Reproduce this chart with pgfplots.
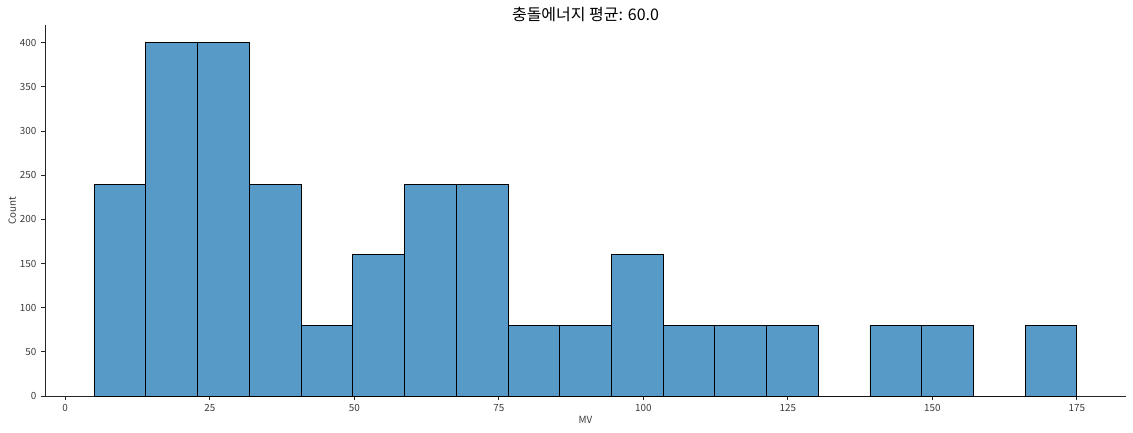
\documentclass[border=0pt]{standalone}
\usepackage{pgfplots}
\pgfplotsset{compat=1.18}
\usepackage{fontspec}
\setmainfont{Noto Sans CJK KR}
\definecolor{barblue}{HTML}{5799C7}
\definecolor{spine}{HTML}{262626}
\definecolor{ticktext}{HTML}{3A3A3A}
\begin{document}
\begin{tikzpicture}
\begin{axis}[
  scale only axis,
  width=810.75pt, height=278.25pt,
  xmin=-3.5, xmax=183.5, ymin=0, ymax=420,
  axis x line*=bottom, axis y line*=left,
  axis line style={spine, line width=0.6pt},
  xtick={0,25,50,75,100,125,150,175},
  ytick={0,50,100,150,200,250,300,350,400},
  tick align=outside, tick style={spine, line width=0.6pt},
  major tick length=3pt,
  tick label style={font=\fontsize{7.4}{8}\selectfont, text=ticktext},
  /pgf/number format/assume math mode=true,
  xlabel={MV}, ylabel={Count},
  label style={font=\fontsize{7.4}{8}\selectfont, text=ticktext},
  xlabel style={yshift=4pt},
  ylabel style={yshift=-4pt},
  title={충돌에너지 평균: 60.0},
  title style={font=\fontsize{12}{14}\selectfont, yshift=-7pt},
  clip=false,
]
\addplot[ybar interval, fill=barblue, draw=black, line width=0.6pt] coordinates {
(5,240) (13.947368,400) (22.894737,400) (31.842105,240) (40.789474,80)
(49.736842,160) (58.684211,240) (67.631579,240) (76.578947,80) (85.526316,80)
(94.473684,160) (103.421053,80) (112.368421,80) (121.315789,80) (130.263158,0)
(139.210526,80) (148.157895,80) (157.105263,0) (166.052632,80) (175,80)
};
\end{axis}
\pgfresetboundingbox
\path ([xshift=-33.75pt,yshift=-27pt]current axis.south west) rectangle ([xshift=5.25pt,yshift=18.75pt]current axis.north east);
\end{tikzpicture}
\end{document}
